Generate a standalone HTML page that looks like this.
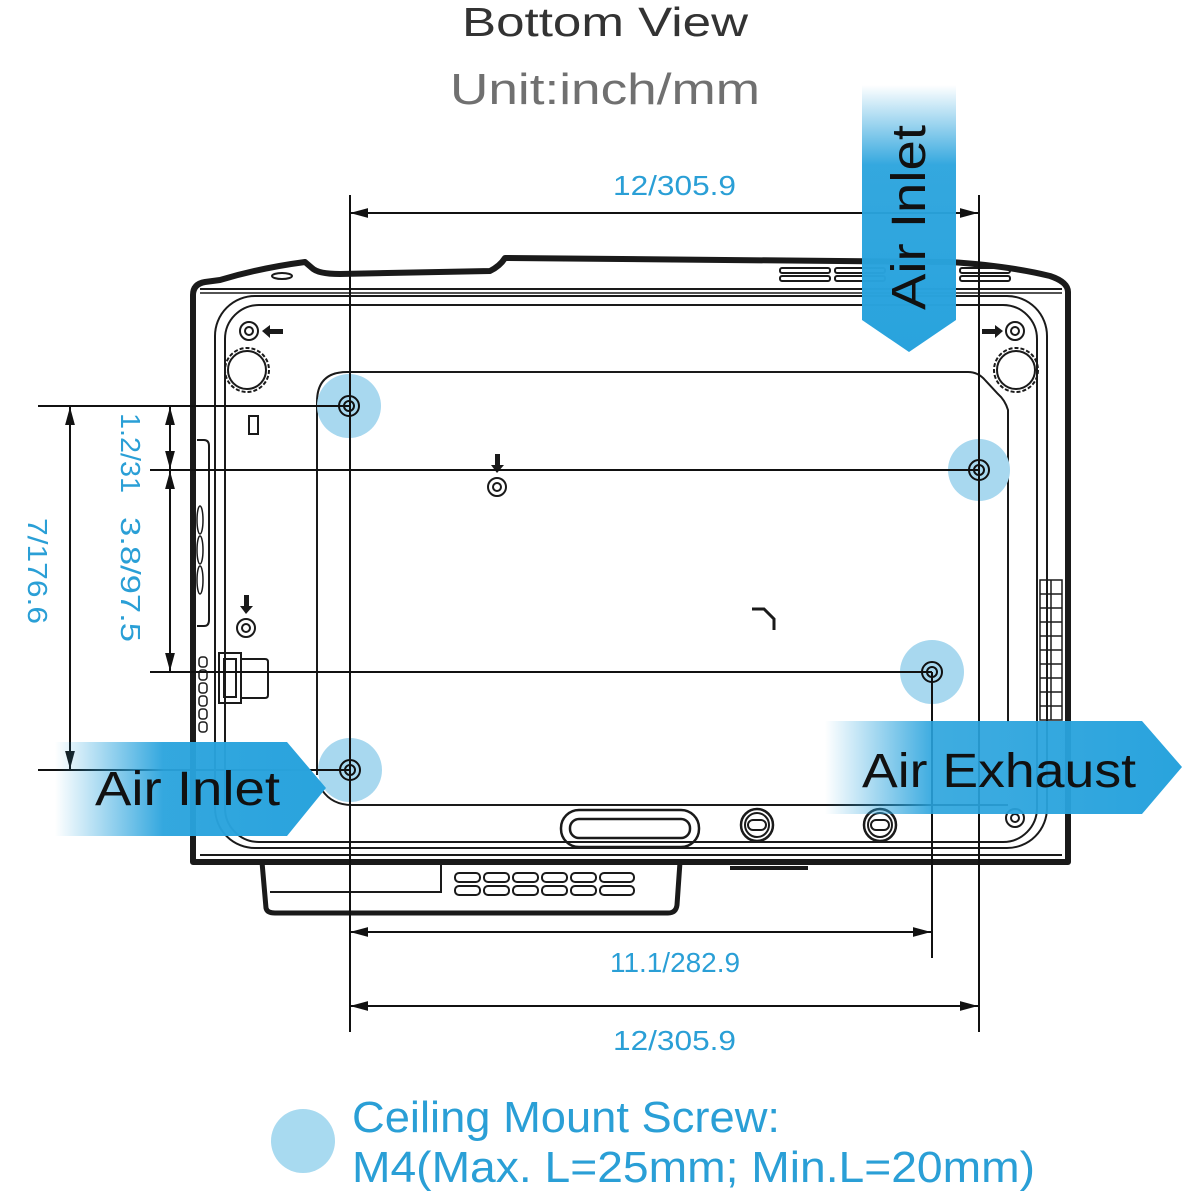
<!DOCTYPE html>
<html><head><meta charset="utf-8"><style>
html,body{margin:0;padding:0;background:#fff;width:1200px;height:1200px;overflow:hidden}
svg{display:block}
text{font-family:"Liberation Sans",sans-serif}
</style></head><body>
<svg width="1200" height="1200" viewBox="0 0 1200 1200" xmlns="http://www.w3.org/2000/svg">
<defs>
<marker id="ar" viewBox="0 0 10 10" refX="10" refY="5" markerWidth="18" markerHeight="14" markerUnits="userSpaceOnUse" orient="auto-start-reverse" preserveAspectRatio="none"><path d="M0,1.5 L10,5 L0,8.5 z" fill="#111"/></marker>
<linearGradient id="gl" x1="0" x2="1" y1="0" y2="0"><stop offset="0" stop-color="#29a3dd" stop-opacity="0"/><stop offset="0.4" stop-color="#29a3dd" stop-opacity="0.95"/><stop offset="1" stop-color="#29a3dd"/></linearGradient>
<linearGradient id="gx" x1="0" x2="1" y1="0" y2="0"><stop offset="0" stop-color="#29a3dd" stop-opacity="0"/><stop offset="0.3" stop-color="#29a3dd" stop-opacity="0.9"/><stop offset="1" stop-color="#29a3dd"/></linearGradient>
<linearGradient id="gt" x1="0" x2="0" y1="0" y2="1"><stop offset="0" stop-color="#29a3dd" stop-opacity="0"/><stop offset="0.3" stop-color="#29a3dd" stop-opacity="0.95"/><stop offset="1" stop-color="#29a3dd"/></linearGradient>
</defs>

<text x="462" y="36" font-size="41" fill="#333" textLength="286" lengthAdjust="spacingAndGlyphs">Bottom View</text>
<text x="450" y="104" font-size="44" fill="#707070" textLength="310" lengthAdjust="spacingAndGlyphs">Unit:inch/mm</text>

<g fill="none" stroke="#1a1a1a">
<path d="M193,862 L193,295 Q193,284 205,282 L220,280 Q260,268 305,262 L312,268 Q318,274 340,274 L490,271 Q500,266 505,258 L950,262 Q1010,266 1050,276 Q1068,282 1068,292 L1068,862 Z" stroke-width="6" stroke-linejoin="round"/>
<path d="M262,862 L266,908 Q267,913 275,913 L668,913 Q676,913 677,905 L680,862" stroke-width="5"/>
<path d="M270,892 L441,892 L441,865" stroke-width="2"/>
<path d="M730,868 L808,868" stroke-width="4"/>
<line x1="200" y1="289" x2="1062" y2="289" stroke-width="2"/>
<line x1="200" y1="293" x2="1062" y2="293" stroke-width="1.5"/>
<rect x="215" y="296" width="832" height="552" rx="40" stroke-width="2"/>
<rect x="225" y="305" width="812" height="537" rx="34" stroke-width="2"/>
<line x1="200" y1="855" x2="1062" y2="855" stroke-width="2"/>
<path d="M317,775 L317,402 Q317,372 347,372 L968,372 Q978,372 985,380 L998,394 Q1005,400 1008,410 L1008,722" stroke-width="2"/>
<path d="M322,790 Q332,805 352,805 L1008,805" stroke-width="2"/>
<g stroke-width="2">
<rect x="780" y="268" width="50" height="5" rx="2"/><rect x="780" y="276" width="50" height="5" rx="2"/><rect x="835" y="268" width="50" height="5" rx="2"/><rect x="835" y="276" width="50" height="5" rx="2"/>
<rect x="960" y="268" width="50" height="5" rx="2"/><rect x="960" y="276" width="50" height="5" rx="2"/>
</g>
<ellipse cx="282" cy="276" rx="10" ry="3" stroke-width="2"/>
<circle cx="247" cy="370" r="22" stroke-width="2" stroke-dasharray="4 2"/><circle cx="247" cy="370" r="19" stroke-width="2"/>
<circle cx="1016" cy="370" r="22" stroke-width="2" stroke-dasharray="4 2"/><circle cx="1016" cy="370" r="19" stroke-width="2"/>
<circle cx="249" cy="331" r="9" stroke-width="2"/><circle cx="249" cy="331" r="4" stroke-width="2"/>
<circle cx="1015" cy="331" r="9" stroke-width="2"/><circle cx="1015" cy="331" r="4" stroke-width="2"/>
<circle cx="497" cy="487" r="9" stroke-width="2"/><circle cx="497" cy="487" r="4" stroke-width="2"/>
<circle cx="246" cy="628" r="9" stroke-width="2"/><circle cx="246" cy="628" r="4" stroke-width="2"/>
<circle cx="1015" cy="818" r="9" stroke-width="2"/><circle cx="1015" cy="818" r="4" stroke-width="2"/>
<rect x="249" y="416" width="9" height="18" stroke-width="2"/>
<path d="M752,609 L764,609 L774,619 L774,630" stroke-width="3"/>
<path d="M197,440 L204,440 Q209,440 209,446 L209,620 Q209,626 204,626 L197,626" stroke-width="2"/>
<ellipse cx="200" cy="520" rx="3" ry="14" stroke-width="1.5"/><ellipse cx="200" cy="550" rx="3" ry="14" stroke-width="1.5"/><ellipse cx="200" cy="580" rx="3" ry="14" stroke-width="1.5"/>
<rect x="219" y="653" width="22" height="50" stroke-width="2"/><rect x="224" y="659" width="12" height="38" stroke-width="2"/>
<path d="M241,659 L265,659 Q268,659 268,662 L268,695 Q268,698 265,698 L241,698" stroke-width="2"/>
<g stroke-width="1.5"><rect x="199" y="657" width="8" height="10" rx="3"/><rect x="199" y="670" width="8" height="10" rx="3"/><rect x="199" y="683" width="8" height="10" rx="3"/><rect x="199" y="696" width="8" height="10" rx="3"/><rect x="199" y="709" width="8" height="10" rx="3"/><rect x="199" y="722" width="8" height="10" rx="3"/></g>
<g stroke-width="1.5"><rect x="1040" y="580" width="22" height="140"/><line x1="1051" y1="580" x2="1051" y2="720"/>
<line x1="1040" y1="594" x2="1062" y2="594"/><line x1="1040" y1="608" x2="1062" y2="608"/><line x1="1040" y1="622" x2="1062" y2="622"/><line x1="1040" y1="636" x2="1062" y2="636"/><line x1="1040" y1="650" x2="1062" y2="650"/><line x1="1040" y1="664" x2="1062" y2="664"/><line x1="1040" y1="678" x2="1062" y2="678"/><line x1="1040" y1="692" x2="1062" y2="692"/><line x1="1040" y1="706" x2="1062" y2="706"/></g>
<rect x="561" y="810" width="138" height="37" rx="18" stroke-width="2.5"/><rect x="570" y="819" width="120" height="19" rx="9" stroke-width="2.5"/>
<circle cx="757" cy="825" r="16" stroke-width="2.5"/><circle cx="757" cy="825" r="12" stroke-width="2"/><rect x="748" y="820" width="18" height="10" rx="5" stroke-width="2"/>
<circle cx="880" cy="825" r="16" stroke-width="2.5"/><circle cx="880" cy="825" r="12" stroke-width="2"/><rect x="871" y="820" width="18" height="10" rx="5" stroke-width="2"/>
<g stroke-width="2">
<rect x="455" y="873" width="25" height="9" rx="4"/><rect x="484" y="873" width="25" height="9" rx="4"/><rect x="513" y="873" width="25" height="9" rx="4"/><rect x="542" y="873" width="25" height="9" rx="4"/><rect x="571" y="873" width="25" height="9" rx="4"/><rect x="600" y="873" width="34" height="9" rx="4"/>
<rect x="455" y="886" width="25" height="9" rx="4"/><rect x="484" y="886" width="25" height="9" rx="4"/><rect x="513" y="886" width="25" height="9" rx="4"/><rect x="542" y="886" width="25" height="9" rx="4"/><rect x="571" y="886" width="25" height="9" rx="4"/><rect x="600" y="886" width="34" height="9" rx="4"/>
</g>
</g>
<g fill="#1a1a1a">
<path d="M262,331 L270,325 L270,329 L283,329 L283,334 L270,334 L270,338 Z"/>
<path d="M1003,331 L995,325 L995,329 L982,329 L982,334 L995,334 L995,338 Z"/>
<path d="M497,473 L491,465 L495,465 L495,454 L500,454 L500,465 L504,465 Z"/>
<path d="M246,614 L240,606 L244,606 L244,595 L249,595 L249,606 L253,606 Z"/>
</g>

<g fill="#a8d8ef">
<circle cx="349" cy="406" r="32"/><circle cx="979" cy="470" r="31"/><circle cx="932" cy="672" r="32"/><circle cx="350" cy="770" r="32"/>
</g>
<g fill="none" stroke="#111" stroke-width="2">
<circle cx="349" cy="406" r="10"/><circle cx="349" cy="406" r="5"/>
<circle cx="979" cy="470" r="10"/><circle cx="979" cy="470" r="5"/>
<circle cx="932" cy="672" r="10"/><circle cx="932" cy="672" r="5"/>
<circle cx="350" cy="770" r="10"/><circle cx="350" cy="770" r="5"/>
</g>

<g stroke="#111" stroke-width="2" fill="none">
<line x1="350" y1="195" x2="350" y2="1032"/>
<line x1="979" y1="195" x2="979" y2="1032"/>
<line x1="932" y1="672" x2="932" y2="958"/>
<line x1="38" y1="406" x2="349" y2="406"/>
<line x1="150" y1="470" x2="979" y2="470"/>
<line x1="150" y1="672" x2="932" y2="672"/>
<line x1="38" y1="770" x2="350" y2="770"/>
<line x1="350" y1="213" x2="978" y2="213" marker-start="url(#ar)" marker-end="url(#ar)"/>
<line x1="350" y1="932" x2="931" y2="932" marker-start="url(#ar)" marker-end="url(#ar)"/>
<line x1="350" y1="1006" x2="978" y2="1006" marker-start="url(#ar)" marker-end="url(#ar)"/>
<line x1="70" y1="407" x2="70" y2="769" marker-start="url(#ar)" marker-end="url(#ar)"/>
<line x1="170" y1="407" x2="170" y2="469" marker-start="url(#ar)" marker-end="url(#ar)"/>
<line x1="170" y1="471" x2="170" y2="671" marker-start="url(#ar)" marker-end="url(#ar)"/>
</g>
<g fill="#2a9fd6" font-size="28">
<text x="613" y="195" textLength="123" lengthAdjust="spacingAndGlyphs">12/305.9</text>
<text x="610" y="972" textLength="130" lengthAdjust="spacingAndGlyphs">11.1/282.9</text>
<text x="613" y="1050" textLength="123" lengthAdjust="spacingAndGlyphs">12/305.9</text>
<text transform="translate(28,518) rotate(90)" textLength="106" lengthAdjust="spacingAndGlyphs">7/176.6</text>
<text transform="translate(121,413) rotate(90)" textLength="80" lengthAdjust="spacingAndGlyphs">1.2/31</text>
<text transform="translate(121,517) rotate(90)" textLength="125" lengthAdjust="spacingAndGlyphs">3.8/97.5</text>
</g>

<path d="M862,85 L956,85 L956,320 L909,352 L862,320 Z" fill="url(#gt)"/>
<text transform="translate(925,310) rotate(-90)" font-size="48" fill="#111" textLength="185" lengthAdjust="spacingAndGlyphs">Air Inlet</text>
<path d="M55,742 L287,742 L326,788 L287,836 L55,836 Z" fill="url(#gl)"/>
<text x="95" y="805" font-size="48" fill="#111" textLength="185" lengthAdjust="spacingAndGlyphs">Air Inlet</text>
<path d="M825,721 L1142,721 L1182,767 L1142,814 L825,814 Z" fill="url(#gx)"/>
<text x="862" y="787" font-size="48" fill="#111" textLength="274" lengthAdjust="spacingAndGlyphs">Air Exhaust</text>

<circle cx="303" cy="1141" r="32" fill="#a8daf0"/>
<text x="352" y="1132" font-size="44" fill="#2a9fd6" textLength="428" lengthAdjust="spacingAndGlyphs">Ceiling Mount Screw:</text>
<text x="352" y="1182" font-size="44" fill="#2a9fd6" textLength="683" lengthAdjust="spacingAndGlyphs">M4(Max. L=25mm; Min.L=20mm)</text>
</svg>
</body></html>
